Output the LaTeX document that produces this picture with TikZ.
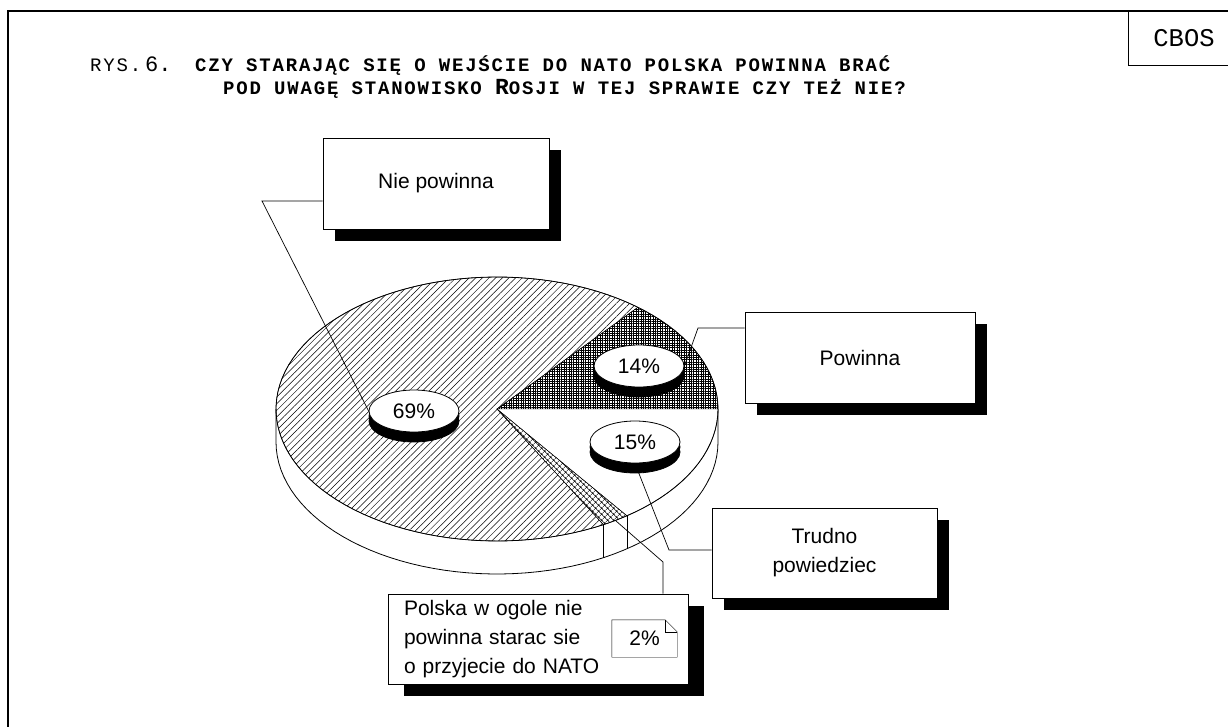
\documentclass[tikz,border=0pt]{standalone}
\usepackage{fontspec}
\setmainfont{Liberation Sans}
\newfontfamily\monofont{Liberation Mono}
\newfontfamily\capsfont[LetterSpace=9.5]{Liberation Mono}
\usetikzlibrary{shapes,shadows,patterns,patterns.meta}
\tikzset{
  lbl/.style  = { draw, thick, fill=white, align=center, inner sep=0pt,
    font=\fontsize{21}{29}\selectfont,
    drop shadow={shadow xshift=#1, shadow yshift=-12pt, fill=black, opacity=1} },
  lbl/.default = 12pt,
  pct/.style  = { draw, thick, ellipse, fill=white, inner sep=0pt,
    minimum width=90pt, minimum height=42pt, font=\fontsize{21}{24}\selectfont,
    copy shadow={shadow xshift=0pt, shadow yshift=-10pt, fill=black, draw=black},
    copy shadow={shadow xshift=0pt, shadow yshift=-5pt, fill=black, draw=black} },
  lead/.style = { draw, line width=0.7pt },
  ttl/.style  = { anchor=base west, inner sep=0pt }
}
\begin{document}
\begin{tikzpicture}[x=1pt,y=-1pt]
    \useasboundingbox (0,0) rectangle (1228,727);
    \draw[line width=1.2pt] (1228,11) -- (8,11) -- (8,727);
    \node[draw, thick, minimum width=112pt, minimum height=54pt, inner sep=0pt,
      font=\monofont\fontsize{25.5}{28}\selectfont] (cbos) at (1184,38) {CBOS};

    % title
    \node[ttl] (rys) at (90,72) {\capsfont\fontsize{19}{22}\selectfont RYS.};
    \node[ttl] (six) at (145,72) {\monofont\fontsize{22}{24}\selectfont 6.};
    \node[ttl] (ln1) at (195,72) {\capsfont\bfseries\fontsize{19}{22}\selectfont
      CZY STARAJĄC SIĘ O WEJŚCIE DO NATO POLSKA POWINNA BRAĆ};
    \node[ttl] (ln2) at (223,95) {\capsfont\bfseries\fontsize{19}{22}\selectfont
      POD UWAGĘ STANOWISKO {\monofont\bfseries\fontsize{23}{24}\selectfont R}OSJI W TEJ SPRAWIE CZY TEŻ NIE?};

    % pie
    \begin{scope}[shift={(497,409)}, x=221pt, y=132pt]
      \fill[white] (180:1) -- plot[domain=180:360, samples=60] ({cos(\x)},{sin(\x)-.25}) -- (0:1) -- cycle;
      \draw[thick] (180:1) -- plot[domain=180:360, samples=60] ({cos(\x)},{sin(\x)-.25}) -- (0:1);
      \draw (-54:1) -- ++(0,-.25);
      \draw (-61.2:1) -- ++(0,-.25);
      \draw[thin, pattern={Lines[angle=45, distance=4.7pt, line width=.5pt]}]
        (0,0) -- plot[domain=50.4:298.8, samples=80] (\x:1) -- cycle;
      \draw[thin, pattern={Hatch[angle=0, distance=2.4pt, line width=.6pt]}]
        (0,0) -- plot[domain=0:50.4, samples=30] (\x:1) -- cycle;
      \draw[thin, fill=white] (0,0) -- plot[domain=-54:0, samples=30] (\x:1) -- cycle;
      \draw[thin, pattern={Hatch[angle=45, distance=4pt, line width=.5pt]}]
        (0,0) -- plot[domain=-61.2:-54, samples=10] (\x:1) -- cycle;
      \draw[thick] plot[domain=0:360, samples=120] (\x:1) -- cycle;
      \coordinate (e2) at (-57.6:1);
    \end{scope}

    % percent discs
    \node[pct] (p69) at (414,411) {69\%};
    \node[pct] (p14) at (639,366) {14\%};
    \node[pct] (p15) at (635,442) {15\%};

    % labels
    \node[lbl, minimum width=226pt, minimum height=91pt] (nie) at (436,183.5) {Nie powinna};
    \node[lbl, minimum width=230pt, minimum height=91pt] (pow) at (860,357.5) {Powinna};
    \node[lbl, minimum width=225pt, minimum height=90pt] (trd) at (824.5,553) {Trudno\\powiedziec};
    \node[lbl=16pt, minimum height=90pt, text width=268pt, inner xsep=16pt, align=left]
      (pol) at (538,639) {Polska w ogole nie\\powinna starac sie\\o przyjecie do NATO};
    \node[inner sep=0pt, minimum width=65pt, minimum height=37pt,
      font=\fontsize{21}{24}\selectfont] (n2) at (644.5,638.5) {2\%\hspace{12pt}};
    \draw[thin] (n2.south west) -- (n2.north west) -- ([xshift=-12pt]n2.north east)
      -- ([yshift=-12pt]n2.north east) -- (n2.south east) -- cycle;
    \draw[thin] ([xshift=-12pt]n2.north east) -- ([xshift=-12pt,yshift=-12pt]n2.north east)
      -- ([yshift=-12pt]n2.north east);

    % leaders
    \coordinate (k69) at (262,201);
    \coordinate (k14) at (698,328);
    \coordinate (k15) at (669,550);
    \coordinate (k2) at (663,562);
    \draw[lead] (nie.west |- k69) -- (k69) -- (p69.west);
    \draw[lead] (pow.west |- k14) -- (k14) -- (p14.east);
    \draw[lead] (trd.west |- k15) -- (k15) -- (p15.south);
    \draw[lead] (pol.north -| k2) -- (k2) -- (e2);
\end{tikzpicture}
\end{document}
